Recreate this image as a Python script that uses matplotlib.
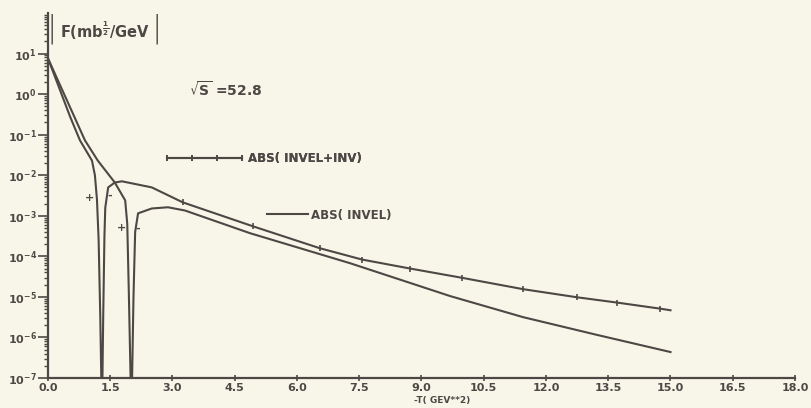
"""Re-plot of |F| vs -t at sqrt(s)=52.8 (old plotter style scan)."""

import numpy as np
import matplotlib

matplotlib.use("Agg")
import matplotlib.pyplot as plt
from matplotlib.ticker import FixedLocator, LogLocator, NullFormatter

INK = "#4d4845"
PAPER = "#f8f6e8"

# -t (GeV^2) and log10|F|
t_both = [0.0, 0.53, 0.77, 1.06, 1.13, 1.18, 1.22, 1.26, 1.30, 1.33, 1.36, 1.38,
          1.45, 1.61, 1.78, 2.5, 3.25, 4.94, 6.55, 7.57, 8.72, 9.98, 11.45,
          12.75, 13.71, 14.75, 15.0]
logf_both = [0.88, -0.55, -1.14, -1.64, -2.0, -2.6, -3.6, -5.5, -8.0, -5.5, -3.5,
             -2.8, -2.3, -2.18, -2.15, -2.3, -2.67, -3.26, -3.80, -4.08, -4.30,
             -4.53, -4.81, -5.01, -5.14, -5.29, -5.33]

t_el = [0.0, 0.6, 0.89, 1.2, 1.61, 1.86, 1.91, 1.95, 2.01, 2.06, 2.10, 2.17,
        2.5, 2.89, 3.3, 4.87, 7.28, 9.69, 11.45, 13.2, 15.0]
logf_el = [0.88, -0.48, -1.14, -1.64, -2.18, -2.62, -3.2, -5.0, -8.0, -5.0, -3.4,
           -2.94, -2.82, -2.79, -2.87, -3.43, -4.17, -4.98, -5.50, -5.93, -6.36]

x_ticks = [0.0, 1.5, 3.0, 4.5, 6.0, 7.5, 9.0, 10.5, 12.0, 13.5, 15.0, 16.5, 18.0]
y_decades = [-7, -6, -5, -4, -3, -2, -1, 0, 1]

# sign annotations near the zeros: (t, log10|F|, sign)
signs = [(1.01, -2.55, "+"), (1.49, -2.5, "-"), (1.78, -3.31, "+"), (2.17, -3.31, "-")]

plt.rcParams["mathtext.default"] = "bf"
plt.rcParams["font.weight"] = "bold"

fig = plt.figure(figsize=(8.12, 4.08), dpi=100, facecolor=PAPER)
ax = fig.add_axes([48 / 812, 30 / 408, 747 / 812, 365 / 408])
ax.set_facecolor(PAPER)

both_line, = ax.plot(
    t_both, 10.0 ** np.array(logf_both), color=INK, linewidth=1.5,
    marker="|", markersize=4, markeredgewidth=1.2, markevery=list(range(16, 26)),
    label="ABS( INVEL+INV)",
)
el_line, = ax.plot(t_el, 10.0 ** np.array(logf_el), color=INK, linewidth=1.5,
                   label="ABS( INVEL)")

ax.set_yscale("log")
ax.set_xlim(0, 18)
ax.set_ylim(1e-7, 1e2)

for side in ("top", "right"):
    ax.spines[side].set_visible(False)
for side in ("left", "bottom"):
    ax.spines[side].set_color(INK)
    ax.spines[side].set_linewidth(1.6)

ax.xaxis.set_major_locator(FixedLocator(x_ticks))
ax.set_xticklabels([f"{v:.1f}" for v in x_ticks])
ax.yaxis.set_major_locator(FixedLocator([10.0 ** d for d in y_decades]))
ax.set_yticklabels([rf"$10^{{{d}}}$" for d in y_decades])
ax.yaxis.set_minor_locator(LogLocator(base=10, subs=np.arange(2, 10), numticks=20))
ax.yaxis.set_minor_formatter(NullFormatter())

ax.tick_params(axis="x", direction="inout", length=5, width=1.2, colors=INK,
               labelsize=8, pad=1)
ax.tick_params(axis="y", which="major", direction="out", length=7, width=1.2,
               colors=INK, labelsize=8, pad=1)
ax.tick_params(axis="y", which="minor", direction="out", length=3, width=1.0,
               colors=INK)

ax.set_xlabel("-T( GEV**2)", fontsize=6.5, color=INK, fontweight="bold")
ax.xaxis.set_label_coords(9.5 / 18, -0.05)

# y title with tall bars
fig.text(52 / 812, 1 - 29 / 408, "|", fontsize=22, color=INK, ha="center",
         va="center", fontweight="light")
fig.text(157 / 812, 1 - 29 / 408, "|", fontsize=22, color=INK, ha="center",
         va="center", fontweight="light")
fig.text(60 / 812, 1 - 31 / 408, r"F(mb$^{\frac{1}{2}}$/GeV", fontsize=10.5,
         color=INK, ha="left", va="center", fontweight="bold")

ax.text(4.27, 10 ** 0.11, r"$\sqrt{S}$ =52.8", fontsize=10, color=INK,
        ha="center", va="center", fontweight="bold")

for t, lf, s in signs:
    ax.text(t, 10 ** lf, s, fontsize=8, color=INK, ha="center", va="center",
            fontweight="bold")

leg1 = fig.legend(
    handles=[both_line], loc="center left", bbox_to_anchor=(163 / 812, 1 - 159 / 408),
    frameon=False, borderpad=0, borderaxespad=0, handlelength=7.0, handletextpad=0.2,
    numpoints=4, prop={"size": 8.5, "weight": "bold"}, labelcolor=INK,
)
fig.legend(
    handles=[el_line], loc="center left", bbox_to_anchor=(267 / 812, 1 - 215 / 408),
    frameon=False, borderpad=0, borderaxespad=0, handlelength=3.5, handletextpad=0.2,
    prop={"size": 8.5, "weight": "bold"}, labelcolor=INK,
)
fig.add_artist(leg1)

fig.savefig("out.png", dpi=100, facecolor=PAPER)
